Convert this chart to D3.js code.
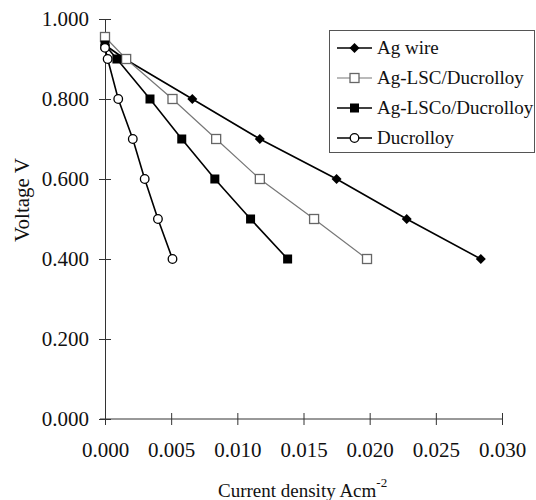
<!DOCTYPE html>
<html><head><meta charset="utf-8">
<script src="https://cdn.jsdelivr.net/npm/d3@7"></script>
<style>body{margin:0;background:#fff}svg{display:block}</style>
</head><body><svg id="c" width="536" height="500"></svg>
<script>
const seriesNames = ["Ag wire","Ag-LSC/Ducrolloy","Ag-LSCo/Ducrolloy","Ducrolloy"];
const agWireX = [0, 0.0015, 0.0066, 0.0117, 0.0175, 0.0228, 0.0284];
const agWireY = [0.935, 0.900, 0.800, 0.700, 0.600, 0.500, 0.400];
const agLscX = [0, 0.0016, 0.0051, 0.0084, 0.0117, 0.0158, 0.0198];
const agLscY = [0.955, 0.900, 0.800, 0.700, 0.600, 0.500, 0.400];
const agLscoX = [0, 0.0009, 0.0034, 0.0058, 0.0083, 0.0110, 0.0138];
const agLscoY = [0.935, 0.900, 0.800, 0.700, 0.600, 0.500, 0.400];
const ducX = [0, 0.0002, 0.0010, 0.0021, 0.0030, 0.0040, 0.0051];
const ducY = [0.928, 0.900, 0.800, 0.700, 0.600, 0.500, 0.400];
const xTicks = [0, 0.005, 0.010, 0.015, 0.020, 0.025, 0.030];
const yTicks = [0, 0.2, 0.4, 0.6, 0.8, 1.0];

const FONT = 'Liberation Serif';
const svg = d3.select("#c");
const x = d3.scaleLinear().domain([0, 0.03]).range([105, 502]);
const y = d3.scaleLinear().domain([0, 1]).range([419, 19]);

function styleText(sel, size) {
  return sel.attr("font-family", FONT).style("font-family", FONT).style("font-size", size + "px").attr("fill", "#111");
}

// axes
const gx = svg.append("g").attr("transform", "translate(0,419)")
  .call(d3.axisBottom(x).tickValues(xTicks).tickFormat(d3.format(".3f")).tickSizeInner(6).tickSizeOuter(0).tickPadding(17));
gx.attr("font-family", FONT);
gx.select(".domain").attr("stroke", "#333").attr("d", "M100,0H502");
gx.selectAll(".tick line").attr("y1", -6).attr("y2", 6).attr("stroke", "#333");
styleText(gx.selectAll(".tick text"), 21);

const gy = svg.append("g").attr("transform", "translate(105,0)")
  .call(d3.axisLeft(y).tickValues(yTicks).tickFormat(d3.format(".3f")).tickSizeInner(6).tickSizeOuter(0).tickPadding(10));
gy.attr("font-family", FONT);
gy.select(".domain").attr("stroke", "#333");
gy.selectAll(".tick line").attr("x1", -6).attr("x2", 6).attr("stroke", "#333");
styleText(gy.selectAll(".tick text"), 21);

// titles
const xt = styleText(svg.append("text").attr("x", 218).attr("y", 497).attr("text-anchor", "start"), 19);
xt.append("tspan").text("Current density Acm");
xt.append("tspan").attr("dy", -10).style("font-size", "13px").text("-2");
styleText(svg.append("text").attr("transform", "translate(29,200) rotate(-90)").attr("text-anchor", "middle"), 21).text("Voltage V");

const series = [
  {name: seriesNames[0], xs: agWireX, ys: agWireY, stroke: "#000", sw: 1.6, marker: "diamond"},
  {name: seriesNames[1], xs: agLscX, ys: agLscY, stroke: "#777", sw: 1.2, marker: "osquare"},
  {name: seriesNames[2], xs: agLscoX, ys: agLscoY, stroke: "#000", sw: 1.6, marker: "fsquare"},
  {name: seriesNames[3], xs: ducX, ys: ducY, stroke: "#000", sw: 1.6, marker: "circle"}
];

function drawMarker(g, type, cx, cy) {
  if (type === "diamond") {
    g.append("path").attr("d", `M${cx},${cy-5}L${cx+5},${cy}L${cx},${cy+5}L${cx-5},${cy}Z`).attr("fill", "#000");
  } else if (type === "osquare") {
    g.append("rect").attr("x", cx-4.5).attr("y", cy-4.5).attr("width", 9).attr("height", 9).attr("fill", "#fff").attr("stroke", "#666").attr("stroke-width", 1.3);
  } else if (type === "fsquare") {
    g.append("rect").attr("x", cx-4.5).attr("y", cy-4.5).attr("width", 9).attr("height", 9).attr("fill", "#000");
  } else {
    g.append("circle").attr("cx", cx).attr("cy", cy).attr("r", 4.3).attr("fill", "#fff").attr("stroke", "#000").attr("stroke-width", 1.3);
  }
}

const line = d3.line().x(d => x(d[0])).y(d => y(d[1]));
series.forEach(s => {
  const pts = s.xs.map((v, i) => [v, s.ys[i]]);
  svg.append("path").attr("d", line(pts)).attr("fill", "none").attr("stroke", s.stroke).attr("stroke-width", s.sw);
});
series.forEach(s => {
  const g = svg.append("g");
  s.xs.forEach((v, i) => drawMarker(g, s.marker, x(v), y(s.ys[i])));
});

// legend
const lg = svg.append("g");
lg.append("rect").attr("x", 329.5).attr("y", 30.5).attr("width", 205).attr("height", 122).attr("fill", "#fff").attr("stroke", "#555").attr("stroke-width", 1);
series.forEach((s, i) => {
  const ly = 48 + i * 30;
  lg.append("line").attr("x1", 337).attr("x2", 372).attr("y1", ly).attr("y2", ly).attr("stroke", s.stroke).attr("stroke-width", s.sw);
  drawMarker(lg, s.marker, 354.5, ly);
  styleText(lg.append("text").attr("x", 377).attr("y", ly + 6), 19).text(s.name);
});
</script></body></html>
